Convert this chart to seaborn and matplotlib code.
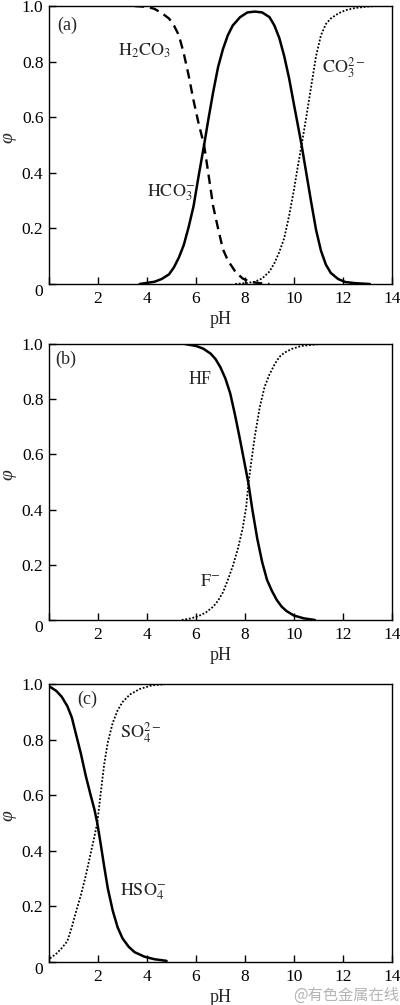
import matplotlib
matplotlib.use("Agg")
import matplotlib.pyplot as plt
import seaborn as sns

# ---- data ----
a_ph_h2co3 = [3.5, 4.0, 4.3, 4.6, 4.9, 5.1, 5.3, 5.5, 5.7, 5.9, 6.1, 6.33, 6.5, 6.7, 6.9,
              7.1, 7.3, 7.6, 7.9, 8.2, 8.6, 9.0]
a_h2co3 = [1.0, 0.997, 0.99, 0.975, 0.955, 0.93, 0.895, 0.83, 0.75, 0.66, 0.58, 0.5, 0.40,
           0.28, 0.20, 0.125, 0.085, 0.045, 0.02, 0.008, 0.003, 0.0]

a_ph_hco3 = [3.7, 4.0, 4.3, 4.6, 4.9, 5.1, 5.3, 5.5, 5.7, 5.9, 6.1, 6.33, 6.5, 6.7, 6.9,
             7.1, 7.3, 7.5, 7.8, 8.1, 8.4, 8.7, 9.0, 9.2, 9.4, 9.6, 9.8, 10.0, 10.15,
             10.31, 10.5, 10.7, 10.9, 11.1, 11.3, 11.5, 11.8, 12.1, 12.5, 13.1]
a_hco3 = [0.0, 0.004, 0.008, 0.018, 0.035, 0.06, 0.095, 0.14, 0.205, 0.28, 0.385, 0.5,
          0.59, 0.69, 0.78, 0.845, 0.895, 0.93, 0.96, 0.977, 0.98, 0.977, 0.96, 0.93,
          0.885, 0.82, 0.74, 0.645, 0.575, 0.5, 0.40, 0.295, 0.195, 0.12, 0.07, 0.04,
          0.018, 0.007, 0.003, 0.0]

a_ph_co3 = [7.6, 8.0, 8.4, 8.7, 9.0, 9.2, 9.4, 9.6, 9.8, 10.0, 10.15, 10.31, 10.5, 10.7,
            10.9, 11.1, 11.3, 11.5, 11.8, 12.1, 12.5, 13.0, 13.3]
a_co3 = [0.0, 0.003, 0.008, 0.02, 0.045, 0.075, 0.115, 0.165, 0.245, 0.34, 0.42, 0.5,
         0.6, 0.71, 0.82, 0.895, 0.935, 0.955, 0.973, 0.985, 0.993, 0.998, 1.0]

b_ph_hf = [5.55, 6.0, 6.3, 6.6, 6.8, 7.0, 7.2, 7.4, 7.6, 7.8, 8.0, 8.14, 8.3, 8.5, 8.7,
           8.9, 9.1, 9.3, 9.5, 9.7, 10.0, 10.4, 10.85]
b_hf = [1.0, 0.993, 0.983, 0.965, 0.945, 0.915, 0.875, 0.82, 0.74, 0.652, 0.56, 0.495,
        0.40, 0.295, 0.21, 0.145, 0.105, 0.072, 0.048, 0.032, 0.016, 0.006, 0.0]

b_ph_f = [5.42, 5.8, 6.1, 6.4, 6.7, 6.9, 7.1, 7.3, 7.5, 7.7, 7.9, 8.05, 8.14, 8.25, 8.4,
          8.6, 8.8, 9.0, 9.2, 9.4, 9.6, 9.9, 10.3, 11.06]
b_f = [0.0, 0.006, 0.014, 0.027, 0.048, 0.07, 0.10, 0.145, 0.195, 0.255, 0.33, 0.41,
       0.495, 0.57, 0.665, 0.77, 0.845, 0.89, 0.925, 0.953, 0.968, 0.982, 0.993, 1.0]

c_ph_hso4 = [0.04, 0.3, 0.52, 0.75, 0.93, 1.1, 1.3, 1.5, 1.7, 1.85, 1.97, 2.1, 2.25, 2.4,
             2.6, 2.8, 3.0, 3.25, 3.5, 3.9, 4.3, 4.8]
c_hso4 = [0.99, 0.975, 0.954, 0.92, 0.88, 0.82, 0.75, 0.67, 0.6, 0.55, 0.5, 0.43, 0.345,
          0.265, 0.185, 0.125, 0.085, 0.055, 0.035, 0.019, 0.01, 0.004]

c_ph_so4 = [0.04, 0.3, 0.52, 0.75, 0.93, 1.1, 1.3, 1.5, 1.7, 1.85, 1.97, 2.1, 2.25, 2.4,
            2.6, 2.8, 3.0, 3.3, 3.7, 4.2, 4.8]
c_so4 = [0.013, 0.03, 0.05, 0.075, 0.125, 0.18, 0.24, 0.31, 0.39, 0.45, 0.5, 0.6, 0.71,
         0.79, 0.86, 0.905, 0.935, 0.962, 0.982, 0.995, 1.0]

x_ticks = [0, 2, 4, 6, 8, 10, 12, 14]
x_ticklabels = ["", "2", "4", "6", "8", "10", "12", "14"]
y_ticks = [0, 0.2, 0.4, 0.6, 0.8, 1.0]
y_ticklabels = ["0", "0.2", "0.4", "0.6", "0.8", "1.0"]

sns.set_style("ticks")
plt.rcParams["font.family"] = ["Liberation Serif", "DejaVu Serif"]
plt.rcParams["mathtext.fontset"] = "stix"
plt.rcParams["axes.linewidth"] = 1.0

fig = plt.figure(figsize=(4.0, 10.05), dpi=100)
L, W = 0.1225, 0.8575
axes = [fig.add_axes([L, 0.7174, W, 0.2766]),
        fig.add_axes([L, 0.3831, W, 0.2746]),
        fig.add_axes([L, 0.0428, W, 0.2766])]

def style(ax):
    ax.set_xlim(0, 14)
    ax.set_ylim(0, 1.0)
    ax.set_xticks(x_ticks)
    ax.set_xticklabels(x_ticklabels)
    ax.set_yticks(y_ticks)
    ax.set_yticklabels(y_ticklabels)
    ax.tick_params(direction="in", length=5, width=1, labelsize=12.5, colors="black",
                   top=False, right=False)
    ax.tick_params(axis="x", pad=5)
    ax.tick_params(axis="y", pad=4)
    ax.get_yticklabels()[0].set_va("top")
    for s in ax.spines.values():
        s.set_visible(True)
        s.set_color("black")
    ax.set_xlabel("pH", fontsize=13, labelpad=3)
    ax.set_ylabel("φ", fontsize=14, fontstyle="italic")
    ax.yaxis.set_label_coords(-0.094, 0.525)

kw = dict(color="black", estimator=None, sort=False)

ax = axes[0]
sns.lineplot(x=a_ph_h2co3, y=a_h2co3, ax=ax, lw=1.7, linestyle=(0, (4, 2.5)), **kw)
sns.lineplot(x=a_ph_hco3, y=a_hco3, ax=ax, lw=1.8, **kw)
sns.lineplot(x=a_ph_co3, y=a_co3, ax=ax, lw=1.3, linestyle=(0, (1, 1)), **kw)
style(ax)
ax.text(0.33, 0.93, "(a)", fontsize=13, va="center")
ax.text(2.8, 0.84, r"$\mathrm{H_2CO_3}$", fontsize=13, va="center")
ax.text(11.15, 0.78, r"$\mathrm{CO_3^{2-}}$", fontsize=13, va="center")
ax.text(4.0, 0.33, r"$\mathrm{HCO_3^{-}}$", fontsize=13, va="center")

ax = axes[1]
sns.lineplot(x=b_ph_hf, y=b_hf, ax=ax, lw=1.8, **kw)
sns.lineplot(x=b_ph_f, y=b_f, ax=ax, lw=1.3, linestyle=(0, (1, 1)), **kw)
style(ax)
ax.text(0.25, 0.945, "(b)", fontsize=13, va="center")
ax.text(5.7, 0.87, "HF", fontsize=13, va="center")
ax.text(6.15, 0.139, r"$\mathrm{F^{-}}$", fontsize=13, va="center")

ax = axes[2]
sns.lineplot(x=c_ph_hso4, y=c_hso4, ax=ax, lw=1.8, **kw)
sns.lineplot(x=c_ph_so4, y=c_so4, ax=ax, lw=1.3, linestyle=(0, (1, 1)), **kw)
style(ax)
ax.text(1.14, 0.946, "(c)", fontsize=13, va="center")
ax.text(2.9, 0.825, r"$\mathrm{SO_4^{2-}}$", fontsize=13, va="center")
ax.text(2.9, 0.253, r"$\mathrm{HSO_4^{-}}$", fontsize=13, va="center")

fig.text(0.997, 0.01, "@有色金属在线", ha="right", va="center", fontsize=11,
         color="#b4b4b4", family=["Noto Sans CJK SC", "DejaVu Sans"])

fig.savefig("out.png", dpi=100)
